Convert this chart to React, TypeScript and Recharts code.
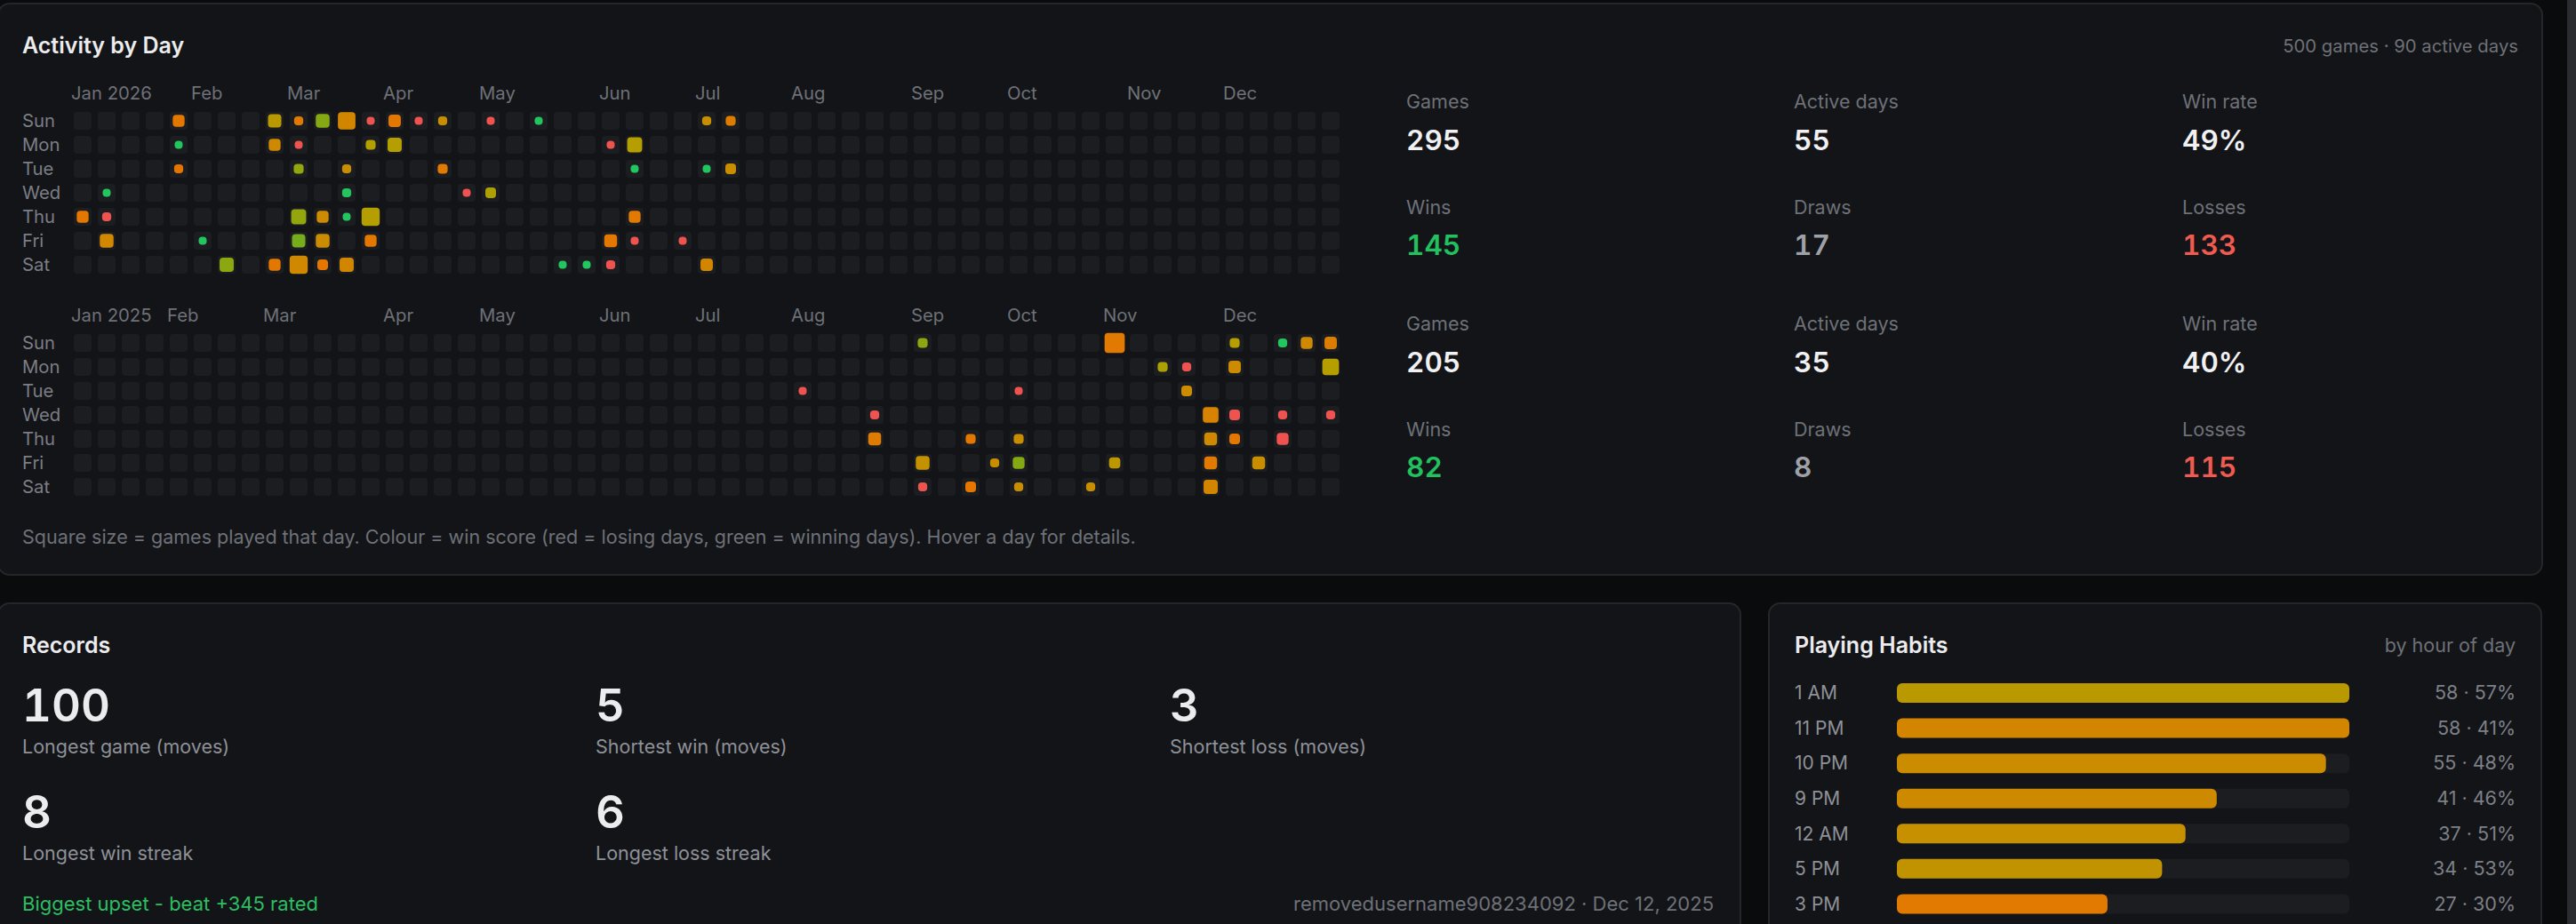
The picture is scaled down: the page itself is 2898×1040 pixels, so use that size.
import React from 'react';
import { ScatterChart, Scatter, XAxis, YAxis, BarChart, Bar, Cell } from 'recharts';

// ---------- data ----------
const monthNames = ['Jan', 'Feb', 'Mar', 'Apr', 'May', 'Jun', 'Jul', 'Aug', 'Sep', 'Oct', 'Nov', 'Dec'];
const dayNames = ['Sun', 'Mon', 'Tue', 'Wed', 'Thu', 'Fri', 'Sat'];

// [MM-DD, games played, win score 0..1]
const activity2026: [string, number, number][] = [
  ['01-01', 6, 0.28], ['01-07', 1, 1], ['01-08', 2, 0], ['01-09', 10, 0.43],
  ['01-25', 6, 0.28], ['01-26', 1, 1], ['01-27', 2, 0.25],
  ['02-06', 1, 1], ['02-14', 11, 0.72], ['02-22', 9, 0.57], ['02-23', 6, 0.45], ['02-28', 6, 0.28],
  ['03-01', 2, 0.3], ['03-02', 1, 0], ['03-03', 3, 0.7], ['03-05', 13, 0.7], ['03-06', 9, 0.78], ['03-07', 23, 0.45],
  ['03-08', 10, 0.74], ['03-12', 6, 0.47], ['03-13', 10, 0.48], ['03-14', 4, 0.27],
  ['03-15', 21, 0.42], ['03-17', 2, 0.5], ['03-18', 2, 1], ['03-19', 1, 1], ['03-21', 11, 0.42],
  ['03-22', 1, 0], ['03-23', 3, 0.6], ['03-26', 23, 0.6], ['03-27', 6, 0.28],
  ['03-29', 7, 0.28], ['03-30', 11, 0.6],
  ['04-05', 1, 0], ['04-12', 2, 0.5], ['04-14', 3, 0.3], ['04-22', 1, 0], ['04-26', 1, 0], ['04-29', 4, 0.62],
  ['05-10', 1, 1], ['05-23', 1, 1], ['05-30', 1, 1],
  ['06-01', 1, 0], ['06-05', 8, 0.28], ['06-06', 2, 0], ['06-08', 13, 0.6], ['06-09', 1, 1], ['06-11', 6, 0.3], ['06-12', 1, 0],
  ['06-26', 1, 0], ['06-28', 2, 0.5], ['06-30', 1, 1],
  ['07-04', 7, 0.42], ['07-05', 3, 0.33], ['07-07', 4, 0.5],
];

const activity2025: [string, number, number][] = [
  ['07-29', 1, 0],
  ['08-20', 2, 0], ['08-21', 8, 0.32], ['08-31', 3, 0.72],
  ['09-05', 10, 0.52], ['09-06', 2, 0], ['09-18', 3, 0.28], ['09-20', 4, 0.28], ['09-26', 2, 0.5], ['09-30', 1, 0],
  ['10-02', 3, 0.5], ['10-03', 6, 0.74], ['10-04', 2, 0.5], ['10-25', 2, 0.5], ['10-26', 31, 0.3], ['10-31', 5, 0.55],
  ['11-10', 3, 0.62], ['11-17', 2, 0], ['11-18', 4, 0.48], ['11-26', 15, 0.38], ['11-27', 8, 0.45], ['11-28', 8, 0.3], ['11-29', 11, 0.42], ['11-30', 3, 0.6],
  ['12-01', 7, 0.47], ['12-03', 4, 0], ['12-04', 4, 0.28], ['12-12', 8, 0.5], ['12-14', 2, 1], ['12-17', 2, 0], ['12-18', 6, 0],
  ['12-21', 6, 0.45], ['12-28', 7, 0.35], ['12-29', 18, 0.6], ['12-31', 2, 0],
];

const statLabels = ['Games', 'Active days', 'Win rate', 'Wins', 'Draws', 'Losses'];
const statTones = ['plain', 'plain', 'plain', 'win', 'draw', 'loss'];
const stats2026 = ['295', '55', '49%', '145', '17', '133'];
const stats2025 = ['205', '35', '40%', '82', '8', '115'];

const summaryText = '500 games · 90 active days';
const legendText = 'Square size = games played that day. Colour = win score (red = losing days, green = winning days). Hover a day for details.';

const recordValues = ['100', '5', '3', '8', '6'];
const recordLabels = ['Longest game (moves)', 'Shortest win (moves)', 'Shortest loss (moves)', 'Longest win streak', 'Longest loss streak'];
const upsetText = 'Biggest upset - beat +345 rated';
const upsetMeta = 'removedusername908234092 · Dec 12, 2025';

const hourLabels = ['1 AM', '11 PM', '10 PM', '9 PM', '12 AM', '5 PM', '3 PM'];
const hourGames = [58, 58, 55, 41, 37, 34, 27];
const hourWinPct = [57, 41, 48, 46, 51, 53, 30];

// ---------- styling helpers ----------
const FONT = 'Inter, "Noto Sans", sans-serif';
const PAGE_BG = '#0a0b0d';
const PANEL_BG = '#131417';
const BORDER = '#25262a';
const EMPTY = '#1c1d20';
const TITLE = '#ececee';
const MUTED = '#6e7178';
const LABEL = '#8e9197';

const rampStops: [number, number[]][] = [
  [0, [239, 83, 80]],
  [0.25, [232, 116, 0]],
  [0.5, [200, 142, 0]],
  [0.6, [180, 158, 0]],
  [0.75, [130, 170, 20]],
  [1, [34, 197, 94]],
];
function scoreColor(s: number) {
  for (let i = 1; i < rampStops.length; i++) {
    const [s1, c1] = rampStops[i];
    const [s0, c0] = rampStops[i - 1];
    if (s <= s1) {
      const t = (s - s0) / (s1 - s0);
      const c = c0.map((v, k) => Math.round(v + (c1[k] - v) * t));
      return `rgb(${c[0]},${c[1]},${c[2]})`;
    }
  }
  const c = rampStops[rampStops.length - 1][1];
  return `rgb(${c[0]},${c[1]},${c[2]})`;
}
const cellSize = (g: number) => 6 + 18 * Math.sqrt(g / 36);

const T = ({ x, right, base, size, weight = 400, color, tnum, children }: any) => (
  <div
    style={{
      position: 'absolute',
      left: x,
      right: right !== undefined ? 2898 - right : undefined,
      top: base - 0.864 * size,
      fontSize: size,
      lineHeight: 1,
      fontWeight: weight,
      color,
      whiteSpace: 'nowrap',
      fontVariantNumeric: tnum ? 'tabular-nums' : undefined,
    }}
  >
    {children}
  </div>
);

// ---------- heatmap ----------
const EmptyCell = (p: any) => (
  <rect x={p.cx - 10} y={p.cy - 10} width={20} height={20} rx={4} fill={EMPTY} />
);
const DayCell = (p: any) => {
  const s = cellSize(p.payload.games);
  return (
    <rect
      x={p.cx - s / 2}
      y={p.cy - s / 2}
      width={s}
      height={s}
      rx={Math.min(4, s / 2)}
      fill={scoreColor(p.payload.score)}
    />
  );
};

function YearHeatmap({ year, activity, top }: any) {
  const jan1 = Date.UTC(year, 0, 1);
  const offset = new Date(jan1).getUTCDay();
  const pos = (m: number, d: number) => {
    const doy = Math.round((Date.UTC(year, m - 1, d) - jan1) / 864e5);
    const k = doy + offset;
    return { week: Math.floor(k / 7), day: k % 7 };
  };
  const grid: any[] = [];
  for (let w = 0; w < 53; w++) for (let d = 0; d < 7; d++) grid.push({ week: w, day: d });
  const days = activity.map(([md, g, s]: any) => {
    const [m, d] = md.split('-').map(Number);
    return { ...pos(m, d), games: g, score: s };
  });
  const monthTicks = monthNames.map((_, i) => pos(i + 1, 1).week);

  const MonthTick = (p: any) => {
    const idx = monthTicks.indexOf(p.payload.value);
    const label = idx === 0 ? `Jan ${year}` : monthNames[idx];
    return (
      <text x={p.x - 13} y={p.y - 24} textAnchor="start" fill={MUTED} fontSize={20.3} fontFamily={FONT}>
        {label}
      </text>
    );
  };
  const DayTick = (p: any) => (
    <text x={25} y={p.y + 7.3} textAnchor="start" fill="#7b7e85" fontSize={20.3} fontFamily={FONT}>
      {dayNames[p.payload.value]}
    </text>
  );

  return (
    <div style={{ position: 'absolute', left: 0, top }}>
      <ScatterChart width={1520} height={240} margin={{ top: 0, right: 23, bottom: 22, left: 0 }}>
        <XAxis
          type="number"
          dataKey="week"
          domain={[0, 52]}
          ticks={monthTicks}
          interval={0}
          orientation="top"
          height={56}
          tickLine={false}
          axisLine={false}
          tickSize={0}
          tickMargin={0}
          tick={MonthTick}
        />
        <YAxis
          type="number"
          dataKey="day"
          domain={[0, 6]}
          ticks={[0, 1, 2, 3, 4, 5, 6]}
          interval={0}
          reversed
          width={93}
          tickLine={false}
          axisLine={false}
          tickSize={0}
          tickMargin={0}
          tick={DayTick}
        />
        <Scatter data={grid} shape={EmptyCell} isAnimationActive={false} />
        <Scatter data={days} shape={DayCell} isAnimationActive={false} />
      </ScatterChart>
    </div>
  );
}

// ---------- stats ----------
const toneColor: any = { plain: '#f1f1f3', win: '#22c05f', draw: '#9ea1a7', loss: '#ef5b50' };
const statCols = [1582, 2018, 2455];

function StatBlock({ values, offset }: any) {
  return (
    <>
      {statLabels.map((lab, i) => {
        const col = i % 3;
        const row = Math.floor(i / 3);
        const lb = 122.3 + row * 119 + offset;
        const vb = 169 + row * 118 + offset;
        return (
          <React.Fragment key={lab}>
            <T x={statCols[col]} base={lb} size={21.5} color={MUTED}>{lab}</T>
            <T x={statCols[col]} base={vb} size={31.5} weight={600} color={toneColor[statTones[i]]} tnum>{values[i]}</T>
          </React.Fragment>
        );
      })}
    </>
  );
}

// ---------- habits ----------
const hourData = hourLabels.map((h, i) => ({ hour: h, games: hourGames[i], pct: hourWinPct[i] }));

const HourTick = (p: any) => (
  <text x={0} y={p.y + 7.5} textAnchor="start" fill={LABEL} fontSize={21} fontFamily={FONT}>
    {p.payload.value}
  </text>
);
const ValueTick = (p: any) => {
  const d = hourData.find((r) => r.hour === p.payload.value);
  return (
    <text x={811} y={p.y + 7.5} textAnchor="end" fill="#7d8087" fontSize={21.5} fontFamily={FONT}>
      {d ? `${d.games} · ${d.pct}%` : ''}
    </text>
  );
};

function Habits() {
  return (
    <div style={{ position: 'absolute', left: 2019, top: 760 }}>
      <BarChart
        layout="vertical"
        width={811}
        height={277}
        data={hourData}
        margin={{ top: 0, right: 0, bottom: 0, left: 0 }}
        barCategoryGap={0}
      >
        <XAxis type="number" domain={[0, 58]} hide />
        <YAxis
          yAxisId="l"
          type="category"
          dataKey="hour"
          width={115}
          tickLine={false}
          axisLine={false}
          tickSize={0}
          tickMargin={0}
          interval={0}
          tick={HourTick}
        />
        <YAxis
          yAxisId="r"
          orientation="right"
          type="category"
          dataKey="hour"
          width={187}
          tickLine={false}
          axisLine={false}
          tickSize={0}
          tickMargin={0}
          interval={0}
          tick={ValueTick}
        />
        <Bar
          yAxisId="l"
          dataKey="games"
          barSize={22}
          radius={6}
          background={{ fill: '#1c1d21', radius: 6 }}
          isAnimationActive={false}
        >
          {hourData.map((d, i) => (
            <Cell key={i} fill={scoreColor(d.pct / 100)} />
          ))}
        </Bar>
      </BarChart>
    </div>
  );
}

// ---------- app ----------
const panel = (left: number, top: number, width: number, height: number): React.CSSProperties => ({
  position: 'absolute',
  left,
  top,
  width,
  height,
  boxSizing: 'border-box',
  background: PANEL_BG,
  border: `2px solid ${BORDER}`,
  borderRadius: 14,
});

export default function App() {
  return (
    <div
      style={{
        position: 'fixed',
        left: 0,
        top: 0,
        width: 2898,
        height: 1040,
        overflow: 'hidden',
        background: PAGE_BG,
        fontFamily: FONT,
      }}
    >
      <div style={panel(-3, 3, 2864, 645)} />
      <div style={panel(-3, 678, 1962, 500)} />
      <div style={panel(1989, 678, 871, 500)} />
      <div style={{ position: 'absolute', left: 2888, top: 0, width: 10, height: 1040, background: '#2b2c2f' }} />

      {/* Activity panel */}
      <T x={25} base={61} size={25} weight={600} color={TITLE}>Activity by Day</T>
      <T right={2833} base={60} size={20.3} color={MUTED}>{summaryText}</T>
      <YearHeatmap year={2026} activity={activity2026} top={80} />
      <YearHeatmap year={2025} activity={activity2025} top={330} />
      <T x={25} base={612.5} size={21.5} color={MUTED}>{legendText}</T>
      <StatBlock values={stats2026} offset={0} />
      <StatBlock values={stats2025} offset={250} />

      {/* Records panel */}
      <T x={25} base={735.5} size={25} weight={600} color={TITLE}>Records</T>
      {recordValues.map((v, i) => {
        const col = i % 3;
        const row = Math.floor(i / 3);
        const x = [25, 670, 1316][col];
        return (
          <React.Fragment key={i}>
            <T x={x} base={812.3 + row * 119.5} size={51} weight={600} color={TITLE} tnum>{v}</T>
            <T x={x} base={849 + row * 119.5} size={21.5} color={LABEL}>{recordLabels[i]}</T>
          </React.Fragment>
        );
      })}
      <T x={25} base={1025} size={22} color="#2bbf62">{upsetText}</T>
      <T right={1928} base={1025} size={22} color={MUTED}>{upsetMeta}</T>

      {/* Habits panel */}
      <T x={2019} base={735.5} size={25} weight={600} color={TITLE}>Playing Habits</T>
      <T right={2830} base={735} size={21.5} color={MUTED}>by hour of day</T>
      <Habits />
    </div>
  );
}
